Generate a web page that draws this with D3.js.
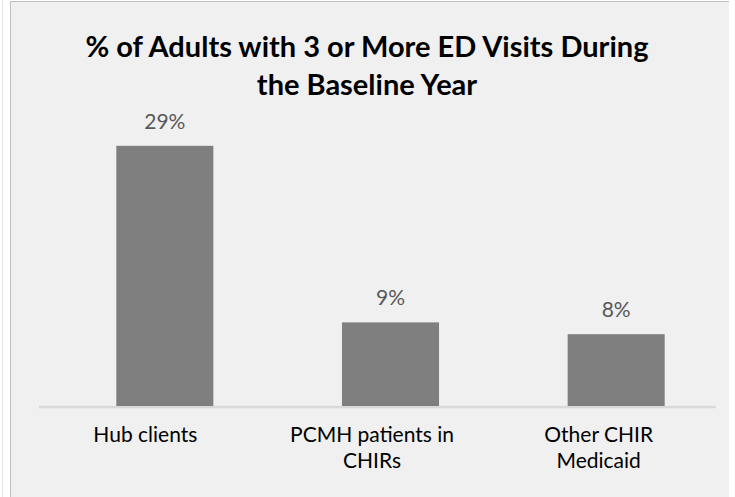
<!DOCTYPE html>
<meta charset="utf-8">
<style>
body { margin: 0; background: #fff; }
svg text { font-family: Lato, 'Open Sans', sans-serif; }
.title { font-weight: bold; font-size: 29px; fill: #000; }
.val { font-size: 21px; fill: #595959; }
.axis text { font-size: 21px; fill: #000; }
</style>
<svg width="735" height="497"></svg>
<script src="https://cdn.jsdelivr.net/npm/d3@7"></script>
<script>

var categories = ["Hub clients", "PCMH patients in\nCHIRs", "Other CHIR\nMedicaid"];
var values = [28.7, 9.3, 8.0];
var titleLines = ["% of Adults with 3 or More ED Visits During", "the Baseline Year"];

var svg = d3.select("svg");

// chart area background + border (top and left only visible)
svg.append("rect")
    .attr("x", 10).attr("y", 1)
    .attr("width", 719).attr("height", 496)
    .attr("fill", "#f0f0f0");
svg.append("path")
    .attr("d", "M10.5,497V1.5H729")
    .attr("fill", "none")
    .attr("stroke", "#bfbfbf");
svg.append("line")
    .attr("x1", 2.5).attr("x2", 2.5).attr("y1", 0).attr("y2", 497)
    .attr("stroke", "#e6e6e6");

var base = 407;

var x = d3.scaleBand()
    .domain(categories)
    .range([52, 729])
    .paddingInner(0.57)
    .paddingOuter(0.285);

// category labels sit slightly left of the bars
var xLabel = d3.scaleBand()
    .domain(categories)
    .range([32, 712]);

var y = d3.scaleLinear()
    .domain([0, 35])
    .range([base, base - 35 * 9.1]);

var title = svg.append("text")
    .attr("class", "title")
    .attr("text-anchor", "middle");
title.selectAll("tspan")
    .data(titleLines)
  .enter().append("tspan")
    .attr("x", 367)
    .attr("y", function(d, i) { return 57 + i * 38; })
    .text(function(d) { return d; });

// baseline
svg.append("line")
    .attr("x1", 39).attr("x2", 716)
    .attr("y1", y(0)).attr("y2", y(0))
    .attr("stroke", "#d9d9d9")
    .attr("stroke-width", 2.5);

var bar = svg.selectAll(".bar")
    .data(values)
  .enter().append("g")
    .attr("class", "bar");

bar.append("rect")
    .attr("x", function(d, i) { return x(categories[i]); })
    .attr("y", function(d) { return y(d); })
    .attr("width", x.bandwidth())
    .attr("height", function(d) { return y(0) - y(d) - 1; })
    .attr("fill", "#7f7f7f");

bar.append("text")
    .attr("class", "val")
    .attr("text-anchor", "middle")
    .attr("x", function(d, i) { return x(categories[i]) + x.bandwidth() / 2; })
    .attr("y", function(d) { return y(d) - 17; })
    .text(function(d) { return Math.round(d) + "%"; });

var axis = svg.append("g")
    .attr("class", "axis")
    .attr("transform", "translate(0," + base + ")")
    .call(d3.axisBottom(xLabel).tickSize(0).tickPadding(0));

axis.select(".domain").remove();

axis.selectAll(".tick text").each(function(d) {
    var t = d3.select(this).text("").attr("y", 0).attr("dy", null);
    d.split("\n").forEach(function(line, i) {
        t.append("tspan")
            .attr("x", 0)
            .attr("y", 35 + i * 26)
            .text(line);
    });
});

</script>
